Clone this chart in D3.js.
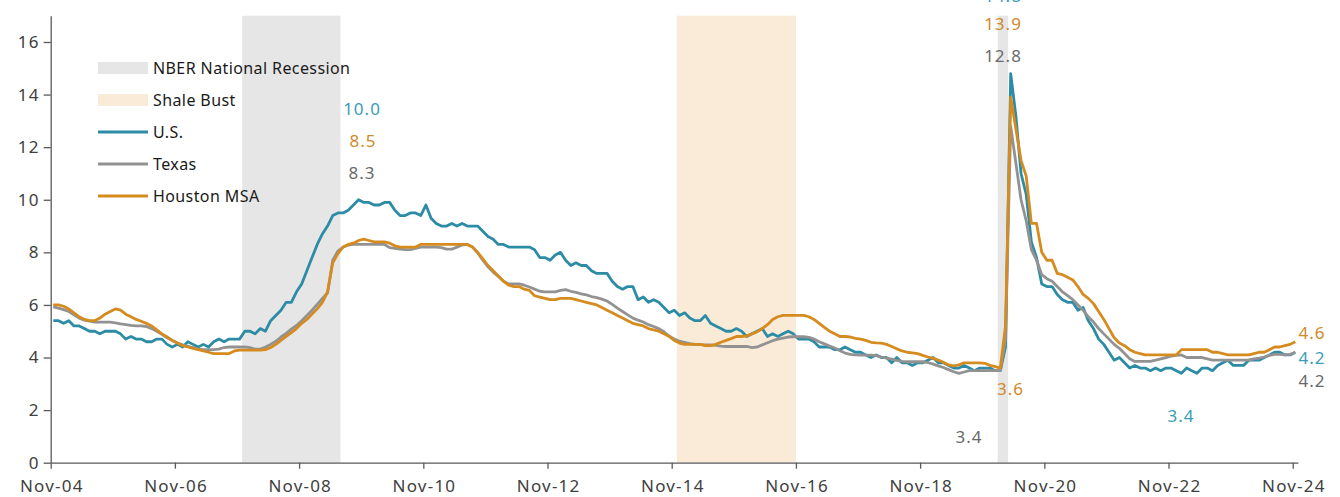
<!DOCTYPE html>
<html>
<head>
<meta charset="utf-8">
<script src="https://cdn.jsdelivr.net/npm/d3@7"></script>
<style>
  html, body { margin: 0; padding: 0; background: #fff; }
  svg { display: block; font-family: "Noto Sans", sans-serif; }
</style>
</head>
<body>
<svg id="chart" width="1340" height="497"></svg>
<script>
// Monthly unemployment rates (%), seasonally adjusted, Nov-04 through Nov-24
const firstMonth = "Nov-04";
const lastAxisMonth = "Dec-24";

const tickLabels = ["Nov-04", "Nov-06", "Nov-08", "Nov-10", "Nov-12", "Nov-14",
                    "Nov-16", "Nov-18", "Nov-20", "Nov-22", "Nov-24"];
const yTicks = [0, 2, 4, 6, 8, 10, 12, 14, 16];

const usRate = [
  5.4, 5.4,
  5.3, 5.4, 5.2, 5.2, 5.1, 5.0, 5.0, 4.9, 5.0, 5.0, 5.0, 4.9,
  4.7, 4.8, 4.7, 4.7, 4.6, 4.6, 4.7, 4.7, 4.5, 4.4, 4.5, 4.4,
  4.6, 4.5, 4.4, 4.5, 4.4, 4.6, 4.7, 4.6, 4.7, 4.7, 4.7, 5.0,
  5.0, 4.9, 5.1, 5.0, 5.4, 5.6, 5.8, 6.1, 6.1, 6.5, 6.8, 7.3,
  7.8, 8.3, 8.7, 9.0, 9.4, 9.5, 9.5, 9.6, 9.8, 10.0, 9.9, 9.9,
  9.8, 9.8, 9.9, 9.9, 9.6, 9.4, 9.4, 9.5, 9.5, 9.4, 9.8, 9.3,
  9.1, 9.0, 9.0, 9.1, 9.0, 9.1, 9.0, 9.0, 9.0, 8.8, 8.6, 8.5,
  8.3, 8.3, 8.2, 8.2, 8.2, 8.2, 8.2, 8.1, 7.8, 7.8, 7.7, 7.9,
  8.0, 7.7, 7.5, 7.6, 7.5, 7.5, 7.3, 7.2, 7.2, 7.2, 6.9, 6.7,
  6.6, 6.7, 6.7, 6.2, 6.3, 6.1, 6.2, 6.1, 5.9, 5.7, 5.8, 5.6,
  5.7, 5.5, 5.4, 5.4, 5.6, 5.3, 5.2, 5.1, 5.0, 5.0, 5.1, 5.0,
  4.8, 4.9, 5.0, 5.1, 4.8, 4.9, 4.8, 4.9, 5.0, 4.9, 4.7, 4.7,
  4.7, 4.6, 4.4, 4.4, 4.4, 4.3, 4.3, 4.4, 4.3, 4.2, 4.2, 4.1,
  4.0, 4.1, 4.0, 4.0, 3.8, 4.0, 3.8, 3.8, 3.7, 3.8, 3.8, 3.9,
  4.0, 3.8, 3.8, 3.7, 3.6, 3.6, 3.7, 3.6, 3.5, 3.6, 3.6, 3.6,
  3.5, 3.5, 4.4, 14.8, 13.2, 11.0, 10.2, 8.4, 7.8, 6.8, 6.7, 6.7,
  6.4, 6.2, 6.1, 6.1, 5.8, 5.9, 5.4, 5.1, 4.7, 4.5, 4.2, 3.9,
  4.0, 3.8, 3.6, 3.7, 3.6, 3.6, 3.5, 3.6, 3.5, 3.6, 3.6, 3.5,
  3.4, 3.6, 3.5, 3.4, 3.6, 3.6, 3.5, 3.7, 3.8, 3.9, 3.7, 3.7,
  3.7, 3.9, 3.9, 3.9, 4.0, 4.1, 4.2, 4.2, 4.1, 4.1, 4.2
];

const texasRate = [
  5.93, 5.88,
  5.82, 5.75, 5.62, 5.5, 5.42, 5.38, 5.35, 5.35, 5.35, 5.35, 5.32, 5.28,
  5.25, 5.22, 5.2, 5.2, 5.18, 5.1, 5.0, 4.88, 4.75, 4.65, 4.55, 4.48,
  4.42, 4.38, 4.32, 4.3, 4.3, 4.3, 4.32, 4.38, 4.4, 4.4, 4.4, 4.4,
  4.38, 4.32, 4.32, 4.4, 4.5, 4.62, 4.78, 4.92, 5.08, 5.22, 5.4, 5.6,
  5.8, 6.02, 6.25, 6.45, 7.7, 8.05, 8.2, 8.28, 8.3, 8.3, 8.3, 8.3,
  8.3, 8.3, 8.3, 8.18, 8.15, 8.12, 8.1, 8.1, 8.15, 8.2, 8.2, 8.2,
  8.2, 8.18, 8.12, 8.12, 8.2, 8.28, 8.3, 8.2, 7.98, 7.7, 7.45, 7.25,
  7.08, 6.9, 6.8, 6.8, 6.8, 6.75, 6.68, 6.6, 6.52, 6.5, 6.5, 6.5,
  6.55, 6.58, 6.52, 6.48, 6.42, 6.38, 6.32, 6.28, 6.22, 6.15, 6.02, 5.88,
  5.75, 5.62, 5.5, 5.42, 5.35, 5.25, 5.18, 5.1, 4.98, 4.82, 4.7, 4.62,
  4.58, 4.53, 4.5, 4.49, 4.48, 4.48, 4.46, 4.43, 4.42, 4.42, 4.42, 4.42,
  4.42, 4.38, 4.4, 4.48, 4.56, 4.64, 4.7, 4.74, 4.78, 4.79, 4.79, 4.79,
  4.77, 4.7, 4.6, 4.52, 4.44, 4.36, 4.26, 4.17, 4.12, 4.1, 4.09, 4.09,
  4.09, 4.07, 4.02, 3.98, 3.94, 3.89, 3.85, 3.84, 3.84, 3.84, 3.84, 3.81,
  3.75, 3.68, 3.62, 3.54, 3.46, 3.4, 3.45, 3.5, 3.5, 3.5, 3.5, 3.5,
  3.5, 3.5, 4.7, 12.8, 11.4, 10.0, 9.2, 8.1, 7.7, 7.15, 7.0, 6.9,
  6.7, 6.5, 6.35, 6.2, 6.0, 5.8, 5.55, 5.35, 5.1, 4.9, 4.7, 4.5,
  4.35, 4.15, 3.95, 3.85, 3.85, 3.85, 3.85, 3.9, 3.95, 4.0, 4.05, 4.08,
  4.1, 4.0, 4.0, 4.0, 4.0, 3.95, 3.9, 3.9, 3.9, 3.9, 3.9, 3.9,
  3.9, 3.9, 3.95, 3.98, 4.02, 4.08, 4.12, 4.12, 4.1, 4.12, 4.2
];

const houstonRate = [
  6.0, 6.0,
  5.95, 5.85, 5.7, 5.55, 5.45, 5.4, 5.4, 5.5, 5.65, 5.75, 5.85, 5.8,
  5.65, 5.55, 5.45, 5.38, 5.3, 5.2, 5.05, 4.9, 4.78, 4.65, 4.55, 4.45,
  4.4, 4.35, 4.3, 4.25, 4.2, 4.15, 4.15, 4.15, 4.15, 4.25, 4.28, 4.28,
  4.28, 4.28, 4.28, 4.3, 4.38, 4.5, 4.65, 4.8, 4.95, 5.1, 5.3, 5.45,
  5.65, 5.85, 6.1, 6.5, 7.6, 7.95, 8.2, 8.3, 8.35, 8.45, 8.5, 8.45,
  8.4, 8.4, 8.4, 8.35, 8.25, 8.2, 8.2, 8.2, 8.2, 8.3, 8.3, 8.3,
  8.3, 8.3, 8.3, 8.3, 8.3, 8.3, 8.3, 8.2, 8.0, 7.75, 7.5, 7.3,
  7.1, 6.9, 6.75, 6.7, 6.7, 6.6, 6.55, 6.35, 6.3, 6.25, 6.2, 6.2,
  6.25, 6.25, 6.25, 6.2, 6.15, 6.1, 6.05, 6.0, 5.9, 5.8, 5.7, 5.6,
  5.5, 5.4, 5.3, 5.25, 5.2, 5.1, 5.05, 5.0, 4.9, 4.8, 4.65, 4.55,
  4.5, 4.5, 4.5, 4.5, 4.45, 4.45, 4.5, 4.58, 4.65, 4.72, 4.8, 4.8,
  4.82, 4.9, 4.98, 5.1, 5.25, 5.45, 5.55, 5.6, 5.6, 5.6, 5.6, 5.6,
  5.55, 5.45, 5.3, 5.15, 5.0, 4.9, 4.8, 4.8, 4.78, 4.73, 4.7, 4.65,
  4.58, 4.56, 4.55, 4.5, 4.42, 4.33, 4.25, 4.2, 4.18, 4.15, 4.08, 4.02,
  3.97, 3.9, 3.82, 3.72, 3.68, 3.72, 3.8, 3.8, 3.8, 3.8, 3.78, 3.7,
  3.65, 3.6, 5.2, 13.9, 12.7, 11.5, 10.9, 9.1, 9.1, 8.0, 7.7, 7.7,
  7.2, 7.15, 7.05, 6.95, 6.7, 6.4, 6.25, 6.05, 5.75, 5.45, 5.1, 4.75,
  4.55, 4.45, 4.3, 4.2, 4.15, 4.1, 4.1, 4.1, 4.1, 4.1, 4.1, 4.1,
  4.3, 4.3, 4.3, 4.3, 4.3, 4.3, 4.2, 4.2, 4.15, 4.1, 4.1, 4.1,
  4.1, 4.1, 4.15, 4.2, 4.2, 4.3, 4.4, 4.4, 4.45, 4.5, 4.6
];

// Shaded periods (start month inclusive, end month as drawn boundary)
const shadedPeriods = [
  { kind: "recession", start: "Dec-07", end: "Jul-09" },
  { kind: "shale",     start: "Dec-14", end: "Nov-16" },
  { kind: "recession", start: "Feb-20", end: "Apr-20" }
];

const seriesNames = ["U.S.", "Texas", "Houston MSA"];

// Value call-outs: which series and month each number belongs to
const callouts = [
  { series: "U.S.",        month: "Oct-09" },
  { series: "Houston MSA", month: "Nov-09" },
  { series: "Texas",       month: "Jan-10" },
  { series: "U.S.",        month: "Apr-20" },
  { series: "Houston MSA", month: "Apr-20" },
  { series: "Texas",       month: "Apr-20" },
  { series: "Texas",       month: "Jun-19" },
  { series: "Houston MSA", month: "Feb-20" },
  { series: "U.S.",        month: "Jan-23" },
  { series: "Houston MSA", month: "Nov-24" },
  { series: "U.S.",        month: "Nov-24" },
  { series: "Texas",       month: "Nov-24" }
];

// ---- layout & style ----
const calloutPos = [
  [362, 115], [363, 146.5], [362, 179],
  [1003, 2], [1003, 29.5], [1003, 62],
  [969, 443], [1010.5, 395], [1181, 421.5],
  [1312, 338.5], [1312, 364], [1312, 387]
];
const lineColor = { "U.S.": "#2D8CA5", "Texas": "#929292", "Houston MSA": "#D68B1F" };
const labelColor = { "U.S.": "#3A9CB6", "Texas": "#6A6A6A", "Houston MSA": "#D08A2A" };
const bandColor = { recession: "#E6E6E6", shale: "#FAEBD8" };

const parseMonth = d3.timeParse("%b-%y");
const t0 = parseMonth(firstMonth);
const monthIndex = s => d3.timeMonth.count(t0, parseMonth(s));

const svg = d3.select("#chart");
const x = d3.scaleLinear()
  .domain([0, monthIndex(lastAxisMonth)])
  .range([50.7, 1297.9]);
const y = d3.scaleLinear().domain([0, 17]).range([462.7, 15.7]);

const series = {
  "U.S.": usRate,
  "Texas": texasRate,
  "Houston MSA": houstonRate
};

// shaded periods
svg.append("g").selectAll("rect")
  .data(shadedPeriods)
  .join("rect")
  .attr("x", d => x(monthIndex(d.start)))
  .attr("width", d => x(monthIndex(d.end)) - x(monthIndex(d.start)))
  .attr("y", y(17))
  .attr("height", y(0) - y(17))
  .attr("fill", d => bandColor[d.kind]);

// axes
const axisColor = "#595959";
const yAxis = svg.append("g")
  .attr("transform", `translate(${x(0)},0)`)
  .call(d3.axisLeft(y).tickValues(yTicks).tickSize(7).tickPadding(4).tickSizeOuter(0));
const xAxis = svg.append("g")
  .attr("transform", `translate(0,${y(0)})`)
  .call(d3.axisBottom(x)
    .tickValues(tickLabels.map(monthIndex))
    .tickFormat((d, i) => tickLabels[i])
    .tickSize(6).tickPadding(11.5).tickSizeOuter(0));
[xAxis, yAxis].forEach(g => {
  g.select(".domain").attr("stroke", axisColor).attr("stroke-width", 1.3);
  g.selectAll(".tick line").attr("stroke", axisColor).attr("stroke-width", 1.3);
  g.selectAll(".tick text")
    .attr("fill", "#404040")
    .style("font-size", "17px")
    .style("letter-spacing", "1.2px")
    .style("font-family", "'Noto Sans', sans-serif");
});
// keep centred labels centred despite the trailing letter-spacing
xAxis.selectAll(".tick text").attr("dx", "0.6px");

// lines
const line = d3.line()
  .x((d, i) => x(i + 0.5))
  .y(d => y(d));
svg.append("g").selectAll("path")
  .data(seriesNames)
  .join("path")
  .attr("d", name => line(series[name]))
  .attr("fill", "none")
  .attr("stroke", name => lineColor[name])
  .attr("stroke-width", 2.8)
  .attr("stroke-linejoin", "round");

// call-out values
svg.append("g").selectAll("text")
  .data(callouts)
  .join("text")
  .attr("x", (d, i) => calloutPos[i][0])
  .attr("y", (d, i) => calloutPos[i][1])
  .attr("text-anchor", "middle")
  .attr("fill", d => labelColor[d.series])
  .style("font-size", "17px")
  .style("letter-spacing", "1px")
  .text(d => d3.format(".1f")(series[d.series][monthIndex(d.month)]));

// legend
const legendItems = [
  { label: "NBER National Recession", type: "band", color: bandColor.recession },
  { label: "Shale Bust", type: "band", color: bandColor.shale },
  { label: "U.S.", type: "line", color: lineColor["U.S."] },
  { label: "Texas", type: "line", color: lineColor["Texas"] },
  { label: "Houston MSA", type: "line", color: lineColor["Houston MSA"] }
];
const legend = svg.append("g");
const rows = legend.selectAll("g")
  .data(legendItems)
  .join("g")
  .attr("transform", (d, i) => `translate(98,${68 + i * 32})`);
rows.filter(d => d.type === "band").append("rect")
  .attr("x", 0).attr("y", -6).attr("width", 50).attr("height", 12)
  .attr("fill", d => d.color);
rows.filter(d => d.type === "line").append("line")
  .attr("x1", 0).attr("x2", 50).attr("y1", 0).attr("y2", 0)
  .attr("stroke", d => d.color).attr("stroke-width", 3);
rows.append("text")
  .attr("x", 55).attr("y", 6)
  .attr("fill", "#1a1a1a")
  .style("font-size", "16px")
  .style("letter-spacing", "0.4px")
  .text(d => d.label);
</script>
</body>
</html>
